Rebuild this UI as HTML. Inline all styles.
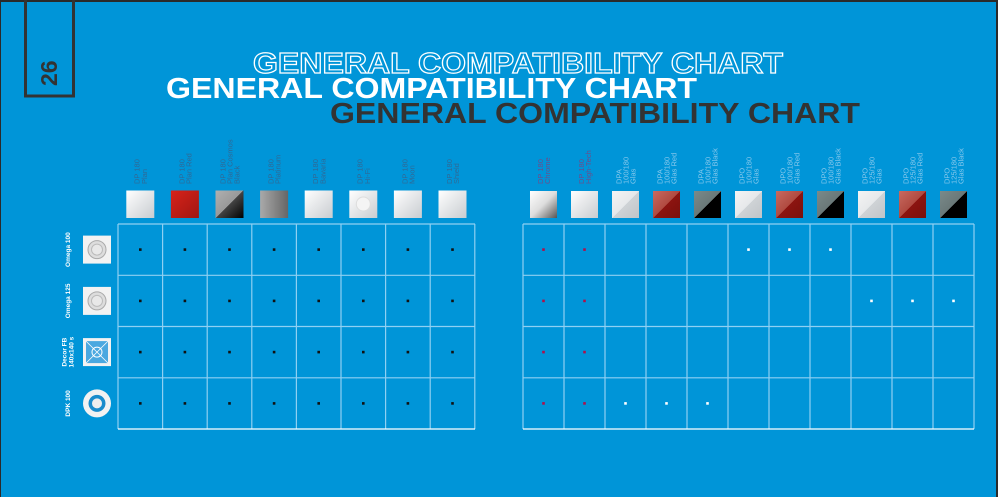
<!DOCTYPE html>
<html><head><meta charset="utf-8"><style>
html,body{margin:0;padding:0;background:#0095d8;}
svg{display:block;font-family:"Liberation Sans",sans-serif;}
</style></head><body>
<svg width="998" height="497" viewBox="0 0 998 497" xmlns="http://www.w3.org/2000/svg">
<defs>
<linearGradient id="gw" x1="0" y1="0" x2="1" y2="1"><stop offset="0" stop-color="#ffffff"/><stop offset="1" stop-color="#c8ccd0"/></linearGradient>
<linearGradient id="gr" x1="0" y1="0" x2="1" y2="1"><stop offset="0" stop-color="#d8231a"/><stop offset="1" stop-color="#a01612"/></linearGradient>
<linearGradient id="gcb" x1="0" y1="0" x2="1" y2="1"><stop offset="0" stop-color="#b0b0b0"/><stop offset="0.5" stop-color="#999"/><stop offset="0.5" stop-color="#444"/><stop offset="1" stop-color="#000"/></linearGradient>
<linearGradient id="gpl" x1="0" y1="0" x2="1" y2="0"><stop offset="0" stop-color="#aaa"/><stop offset="1" stop-color="#666"/></linearGradient>
<linearGradient id="gch" x1="0" y1="0" x2="1" y2="1"><stop offset="0" stop-color="#fff"/><stop offset="0.5" stop-color="#ddd"/><stop offset="1" stop-color="#555"/></linearGradient>
<linearGradient id="ggl" x1="0" y1="0" x2="1" y2="1"><stop offset="0" stop-color="#f4f4f4"/><stop offset="0.5" stop-color="#e6e8ea"/><stop offset="0.5" stop-color="#cfd3d6"/><stop offset="1" stop-color="#c0c4c8"/></linearGradient>
<linearGradient id="ggr" x1="0" y1="0" x2="1" y2="1"><stop offset="0" stop-color="#c86a60"/><stop offset="0.5" stop-color="#b04a40"/><stop offset="0.5" stop-color="#8c1410"/><stop offset="1" stop-color="#7a100c"/></linearGradient>
<linearGradient id="ggb" x1="0" y1="0" x2="1" y2="1"><stop offset="0" stop-color="#7a8a8a"/><stop offset="0.5" stop-color="#6a7878"/><stop offset="0.5" stop-color="#000"/><stop offset="1" stop-color="#000"/></linearGradient>
</defs>
<rect width="998" height="497" fill="#0095d8"/>
<rect x="0" y="0" width="998" height="2" fill="#2a2a2a"/>
<rect x="0" y="0" width="1" height="497" fill="#2a2a2a"/>
<rect x="996" y="0" width="2" height="497" fill="#2a2a2a"/>
<!-- page box -->
<rect x="25.5" y="-3" width="48" height="99" fill="none" stroke="#333" stroke-width="3"/>
<text transform="translate(57,86) rotate(-90)" font-size="23" font-weight="bold" fill="#333">26</text>
<!-- titles -->
<text x="253" y="73" font-size="29" font-weight="bold" fill="none" stroke="#fff" stroke-width="1.2" textLength="530" lengthAdjust="spacingAndGlyphs">GENERAL COMPATIBILITY CHART</text>
<text x="166" y="98" font-size="29" font-weight="bold" fill="#fff" textLength="531" lengthAdjust="spacingAndGlyphs">GENERAL COMPATIBILITY CHART</text>
<text x="330" y="123" font-size="29" font-weight="bold" fill="#333" textLength="530" lengthAdjust="spacingAndGlyphs">GENERAL COMPATIBILITY CHART</text>
<g id="content"></g>
</svg>
<script>
var svg=document.querySelector('svg'),NS="http://www.w3.org/2000/svg",out="";
function cx(i){return 118+44.6*(i+0.5);} function rx(i){return 523+41*(i+0.5);}
var rows=[249.6,300.9,352.1,403.4];
// grid
var s='';
for(var i=0;i<=8;i++){var x=118+44.6*i;s+='<line x1="'+x+'" y1="224" x2="'+x+'" y2="429" stroke="#8fd0f2" stroke-width="1.2"/>';}
for(var i=0;i<=11;i++){var x=523+41*i;s+='<line x1="'+x+'" y1="224" x2="'+x+'" y2="429" stroke="#8fd0f2" stroke-width="1.2"/>';}
[224,275.3,326.5,377.8].forEach(function(y){s+='<line x1="118" y1="'+y+'" x2="475" y2="'+y+'" stroke="#8fd0f2" stroke-width="1.2"/><line x1="523" y1="'+y+'" x2="974" y2="'+y+'" stroke="#8fd0f2" stroke-width="1.2"/>';});
s+='<line x1="118" y1="429" x2="475" y2="429" stroke="#fff" stroke-width="1.2"/><line x1="523" y1="429" x2="974" y2="429" stroke="#fff" stroke-width="1.2"/>';
// dots
for(var r=0;r<4;r++){for(var c=0;c<8;c++)s+='<rect x="'+(cx(c)-1.3)+'" y="'+(rows[r]-1.3)+'" width="2.6" height="2.6" fill="#111"/>';
 for(var c=0;c<2;c++)s+='<rect x="'+(rx(c)-1.3)+'" y="'+(rows[r]-1.3)+'" width="2.6" height="2.6" fill="#b0104a"/>';}
var wd=[[0,5],[0,6],[0,7],[1,8],[1,9],[1,10],[3,2],[3,3],[3,4]];
wd.forEach(function(p){s+='<rect x="'+(rx(p[1])-1.3)+'" y="'+(rows[p[0]]-1.3)+'" width="2.6" height="2.6" fill="#fff"/>';});
// headers
function label(x,lines,col){var n=lines.length;for(var k=0;k<n;k++){var lx=x-(n-1)*3.6+k*7.2+3;s+='<text transform="translate('+lx+',184) rotate(-90)" font-size="7.5" fill="'+col+'">'+lines[k]+'</text>';}}
var L=[["DP 180","Plan"],["DP 180","Plan Red"],["DP 180","Plan Cosmos","Black"],["DP 180","Platinum"],["DP 180","Bavaria"],["DP 180","Hi-Fi"],["DP 180","Moon"],["DP 180","Shield"]];
var LF=["url(#gw)","url(#gr)","url(#gcb)","url(#gpl)","url(#gw)","url(#gw)","url(#gw)","url(#gw)"];
L.forEach(function(l,i){label(cx(i),l,"#2f6996");s+='<rect x="'+(cx(i)-14)+'" y="190.5" width="28" height="27.5" fill="'+LF[i]+'"/>';});
s+='<circle cx="'+cx(5)+'" cy="204" r="7" fill="#f4f4f4" stroke="#ddd"/>';
var R=[["DP 180","Chrome"],["DP 180","High-Tech"],["DPA","100/180","Glas"],["DPA","100/180","Glas Red"],["DPA","100/180","Glas Black"],["DPO","100/180","Glas"],["DPO","100/180","Glas Red"],["DPO","100/180","Glas Black"],["DPO","125/180","Glas"],["DPO","125/180","Glas Red"],["DPO","125/180","Glas Black"]];
var RF=["url(#gch)","url(#gw)","url(#ggl)","url(#ggr)","url(#ggb)","url(#ggl)","url(#ggr)","url(#ggb)","url(#ggl)","url(#ggr)","url(#ggb)"];
R.forEach(function(l,i){label(rx(i),l,i<2?"#6a4f8c":"#86c8ec");s+='<rect x="'+(rx(i)-13.5)+'" y="191" width="27" height="27" fill="'+RF[i]+'"/>';});
// row labels & products
var RL=[["Omega 100"],["Omega 125"],["Decor FB","140x140 s"],["DPK 100"]];
RL.forEach(function(l,r){var n=l.length;for(var k=0;k<n;k++){var lx=70-(n-1)*3.5+k*7;s+='<text transform="translate('+lx+','+rows[r]+') rotate(-90)" font-size="6.5" font-weight="bold" fill="#fff" text-anchor="middle">'+l[k]+'</text>';}});
[0,1].forEach(function(r){var y=rows[r];s+='<rect x="83" y="'+(y-14)+'" width="28" height="28" fill="#f2f2f2"/><circle cx="97" cy="'+y+'" r="9" fill="#ddd" stroke="#aaa"/><circle cx="97" cy="'+y+'" r="5.5" fill="#e8e8e8" stroke="#bbb"/>';});
var y=rows[2];s+='<rect x="83" y="'+(y-14)+'" width="28" height="28" fill="#f2f2f2"/><rect x="86" y="'+(y-11)+'" width="22" height="22" fill="#4aa8e0"/><circle cx="97" cy="'+y+'" r="5" fill="none" stroke="#fff"/><line x1="86" y1="'+(y-11)+'" x2="108" y2="'+(y+11)+'" stroke="#fff" stroke-width="0.8"/><line x1="108" y1="'+(y-11)+'" x2="86" y2="'+(y+11)+'" stroke="#fff" stroke-width="0.8"/>';
y=rows[3];s+='<circle cx="97" cy="'+y+'" r="14" fill="#f2f2f2"/><circle cx="97" cy="'+y+'" r="8.5" fill="#1a8ccc"/><circle cx="97" cy="'+y+'" r="5" fill="#eee"/>';
document.getElementById('content').innerHTML=s;
</script>
</body></html>
